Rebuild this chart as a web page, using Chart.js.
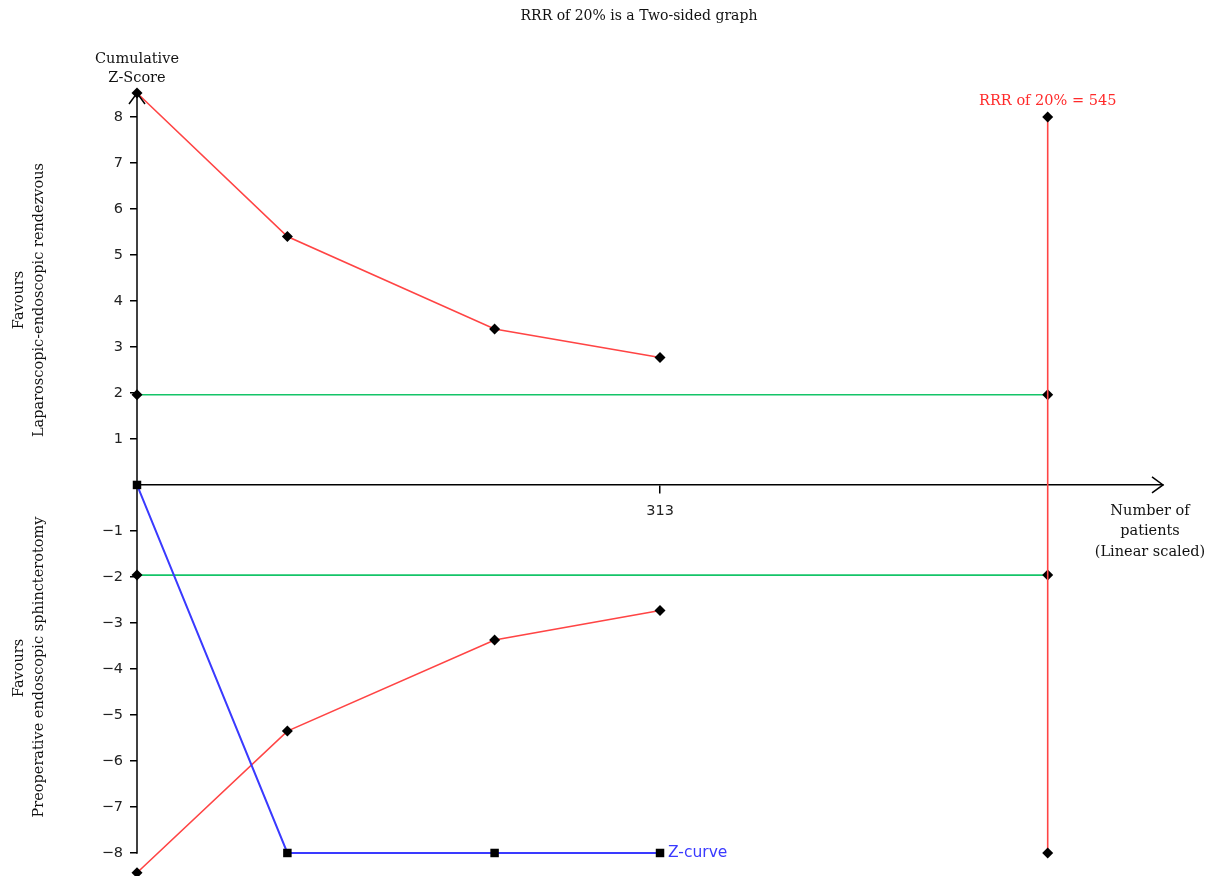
<!DOCTYPE html>
<html>
<head>
<meta charset="utf-8">
<title>Trial sequential analysis</title>
<script src="https://cdn.jsdelivr.net/npm/chart.js@4.4.1/dist/chart.umd.min.js"></script>
<style>
  html, body { margin: 0; padding: 0; background: #fff; }
  #wrap { width: 1211px; height: 876px; position: relative; }
</style>
</head>
<body>
<div id="wrap"><canvas id="tsa" width="1211" height="876"></canvas></div>
<script>
// Cumulative number of patients at each analysis
const patients = [0, 90, 214, 313];
// Monitoring boundaries (upper and lower)
const upperBoundary = [8.52, 5.40, 3.39, 2.77];
const lowerBoundary = [-8.43, -5.35, -3.37, -2.73];
// Cumulative Z-curve
const zCurve = [0, -8, -8, -8];
// Conventional significance lines and required information size
const conventionalZ = 1.96;
const requiredSize = 545;
const rrsTop = 8;
const rrsBottom = -8;
// Axis ticks
const yTicks = [-8, -7, -6, -5, -4, -3, -2, -1, 1, 2, 3, 4, 5, 6, 7, 8];
const xTicks = [313];

const SERIF = '"DejaVu Serif", serif';
const SANS = '"DejaVu Sans", sans-serif';

const pts = (xs, ys) => xs.map((x, i) => ({ x: x, y: ys[i] }));

const RED = '#ff4444';
const GREEN = '#14c468';
const BLUE = '#3a3aff';

const noEdgePadding = s => { s.paddingTop = 0; s.paddingBottom = 0; s.paddingLeft = 0; s.paddingRight = 0; };

const annotations = {
  id: 'annotations',
  beforeDatasetsDraw(chart) {
    // vertical axis line: from the top of the plot down to the lowest tick
    const ctx = chart.ctx;
    const xs = chart.scales.x, ys = chart.scales.y;
    const x0 = Math.round(xs.getPixelForValue(0));
    ctx.save();
    ctx.strokeStyle = '#000';
    ctx.lineWidth = 1.5;
    ctx.beginPath();
    ctx.moveTo(x0, ys.top);
    ctx.lineTo(x0, ys.getPixelForValue(yTicks[0]) + 0.75);
    ctx.stroke();
    ctx.restore();
  },
  afterDraw(chart) {
    const ctx = chart.ctx;
    const xs = chart.scales.x, ys = chart.scales.y;
    const x0 = xs.getPixelForValue(0);
    const y0 = ys.getPixelForValue(0);
    ctx.save();
    // axis arrowheads
    ctx.strokeStyle = '#000';
    ctx.lineWidth = 1.5;
    ctx.beginPath();
    ctx.moveTo(xs.right - 11, y0 - 8);
    ctx.lineTo(xs.right, y0);
    ctx.lineTo(xs.right - 11, y0 + 8);
    ctx.stroke();
    ctx.beginPath();
    ctx.moveTo(x0 - 8, ys.top + 11);
    ctx.lineTo(x0, ys.top);
    ctx.lineTo(x0 + 8, ys.top + 11);
    ctx.stroke();

    ctx.fillStyle = '#111';
    ctx.textAlign = 'center';
    ctx.textBaseline = 'middle';
    ctx.font = '14px ' + SERIF;
    ctx.fillText('RRR of 20% is a Two-sided graph', 639, 16);
    ctx.font = '14.5px ' + SERIF;
    ctx.fillText('Cumulative', x0, 59);
    ctx.fillText('Z-Score', x0, 78);
    ctx.fillText('Number of', 1150, 511);
    ctx.fillText('patients', 1150, 531);
    ctx.fillText('(Linear scaled)', 1150, 552);

    // side captions
    const side = (cx, cy, text) => {
      ctx.save();
      ctx.translate(cx, cy);
      ctx.rotate(-Math.PI / 2);
      ctx.fillText(text, 0, 0);
      ctx.restore();
    };
    side(19, 300, 'Favours');
    side(39, 300, 'Laparoscopic-endoscopic rendezvous');
    side(19, 668, 'Favours');
    side(39, 667, 'Preoperative endoscopic sphincterotomy');

    // required information size label
    ctx.fillStyle = '#ff2a2a';
    ctx.fillText('RRR of 20% = ' + requiredSize, xs.getPixelForValue(requiredSize), 101);

    // Z-curve label
    ctx.fillStyle = BLUE;
    ctx.textAlign = 'left';
    ctx.font = '15.5px ' + SANS;
    const last = patients.length - 1;
    ctx.fillText('Z-curve', xs.getPixelForValue(patients[last]) + 8, ys.getPixelForValue(zCurve[last]));
    ctx.restore();
  }
};

const diamond = { pointStyle: 'rectRot', pointRadius: 5.5, pointBackgroundColor: '#000', pointBorderColor: '#000', pointBorderWidth: 0 };

new Chart(document.getElementById('tsa'), {
  type: 'line',
  data: {
    datasets: [
      Object.assign({ label: 'Z-curve', data: pts(patients, zCurve), borderColor: BLUE, borderWidth: 2,
        pointStyle: 'rect', pointRadius: 6, pointBackgroundColor: '#000', pointBorderColor: '#000', pointBorderWidth: 0, order: 0 }),
      Object.assign({ label: 'Upper boundary', data: pts(patients, upperBoundary), borderColor: RED, borderWidth: 1.6, order: 1 }, diamond),
      Object.assign({ label: 'Lower boundary', data: pts(patients, lowerBoundary), borderColor: RED, borderWidth: 1.6, order: 1 }, diamond),
      Object.assign({ label: 'Required information size', data: pts([requiredSize, requiredSize], [rrsTop, rrsBottom]), borderColor: RED, borderWidth: 1.6, order: 2 }, diamond),
      Object.assign({ label: 'Z = 1.96', data: pts([0, requiredSize], [conventionalZ, conventionalZ]), borderColor: GREEN, borderWidth: 1.6, order: 3 }, diamond),
      Object.assign({ label: 'Z = -1.96', data: pts([0, requiredSize], [-conventionalZ, -conventionalZ]), borderColor: GREEN, borderWidth: 1.6, order: 3 }, diamond)
    ]
  },
  options: {
    responsive: false,
    animation: false,
    clip: false,
    layout: { padding: { left: 0, right: 48, top: 93, bottom: 0 } },
    plugins: { legend: { display: false }, tooltip: { enabled: false }, title: { display: false } },
    elements: { line: { tension: 0, fill: false } },
    scales: {
      x: {
        type: 'linear',
        min: 0,
        max: 614,
        position: { y: 0 },
        afterFit(s) { s.height = 0; noEdgePadding(s); },
        afterBuildTicks(s) { s.ticks = xTicks.map(v => ({ value: v })); },
        border: { display: true, color: '#000', width: 1.5 },
        grid: { drawOnChartArea: false, drawTicks: true, tickLength: 8, color: '#000', lineWidth: 1.5 },
        ticks: { color: '#222', font: { family: SANS, size: 14.5 }, padding: 10, maxRotation: 0, autoSkip: false }
      },
      y: {
        type: 'linear',
        min: -8.37,
        max: 8.52,
        position: 'left',
        afterFit(s) { s.width = 137; noEdgePadding(s); },
        afterBuildTicks(s) { s.ticks = yTicks.map(v => ({ value: v })); },
        border: { display: false },
        grid: { drawOnChartArea: false, drawTicks: true, tickLength: 7, color: '#000', lineWidth: 1.5 },
        ticks: { color: '#222', font: { family: SANS, size: 14.5 }, padding: 7, autoSkip: false,
          callback: v => (v < 0 ? '\u2212' + Math.abs(v) : String(v)) }
      }
    }
  },
  plugins: [annotations]
});
</script>
</body>
</html>
